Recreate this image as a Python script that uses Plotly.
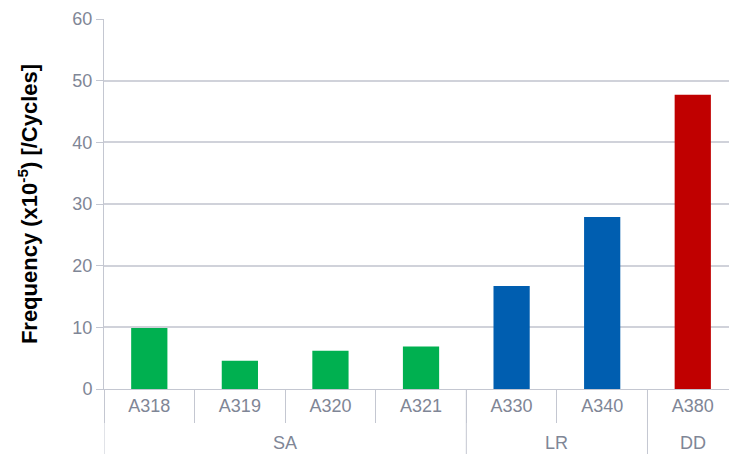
import plotly.graph_objects as go

models = ["A318", "A319", "A320", "A321", "A330", "A340", "A380"]
values = [9.9, 4.6, 6.2, 6.9, 16.7, 27.9, 47.7]
colors = ["#00b050", "#00b050", "#00b050", "#00b050", "#005eb0", "#005eb0", "#c00000"]
group_names = ["SA", "LR", "DD"]
group_sizes = [4, 2, 1]

fig = go.Figure(go.Bar(
    x=models, y=values,
    marker=dict(color=colors, line=dict(width=0)),
    width=0.4,
))

axis_gray = "#c4c7d1"
label_gray = "#7f8696"

W, H = 729, 454
ml, mr, mt, mb = 104, 0, 19, 65
ph = H - mt - mb

def py(pix):
    # convert pixel y (from top) to paper coordinate
    return (H - mb - pix) / ph

shapes = []
annotations = []
start = 0
bounds = [-0.5]
for name, n in zip(group_names, group_sizes):
    center = start + (n - 1) / 2
    annotations.append(dict(x=center, y=py(443), xref="x", yref="paper",
                            text=name, showarrow=False,
                            font=dict(size=18, color=label_gray),
                            xanchor="center", yanchor="middle"))
    start += n
    bounds.append(start - 0.5)
for b in bounds[:-1]:
    shapes.append(dict(type="line", xref="x", yref="paper",
                       x0=b, x1=b, y0=0, y1=py(H + 5),
                       line=dict(color=axis_gray, width=1)))

fig.update_layout(
    width=W, height=H,
    margin=dict(l=ml, r=mr, t=mt, b=mb),
    paper_bgcolor="white", plot_bgcolor="white",
    showlegend=False,
    font=dict(family="Liberation Sans, Arial, sans-serif", color=label_gray),
    shapes=shapes,
    annotations=annotations,
    xaxis=dict(
        type="category", automargin=False,
        range=[-0.5, 6.4],
        showline=True, linecolor=axis_gray, linewidth=1,
        ticks="outside", tickson="boundaries", ticklen=33, tickcolor=axis_gray,
        tickfont=dict(size=18, color=label_gray),
        showgrid=False,
    ),
    yaxis=dict(
        automargin=False,
        range=[0, 60], tickvals=[0, 10, 20, 30, 40, 50, 60],
        showgrid=True, gridcolor="#d0d2da", gridwidth=1.5,
        showline=True, linecolor=axis_gray, linewidth=1,
        ticks="outside", ticklen=7, tickcolor=axis_gray,
        tickfont=dict(size=18, color=label_gray),
        zeroline=False,
        title=dict(text="<b>Frequency (x10<sup>-5</sup>) [/Cycles]</b>",
                   font=dict(size=22, color="black"), standoff=28),
    ),
)

fig.write_html("out.html", config={"displayModeBar": False},
               post_script="document.body.style.margin='0px';document.body.style.overflow='hidden';")
